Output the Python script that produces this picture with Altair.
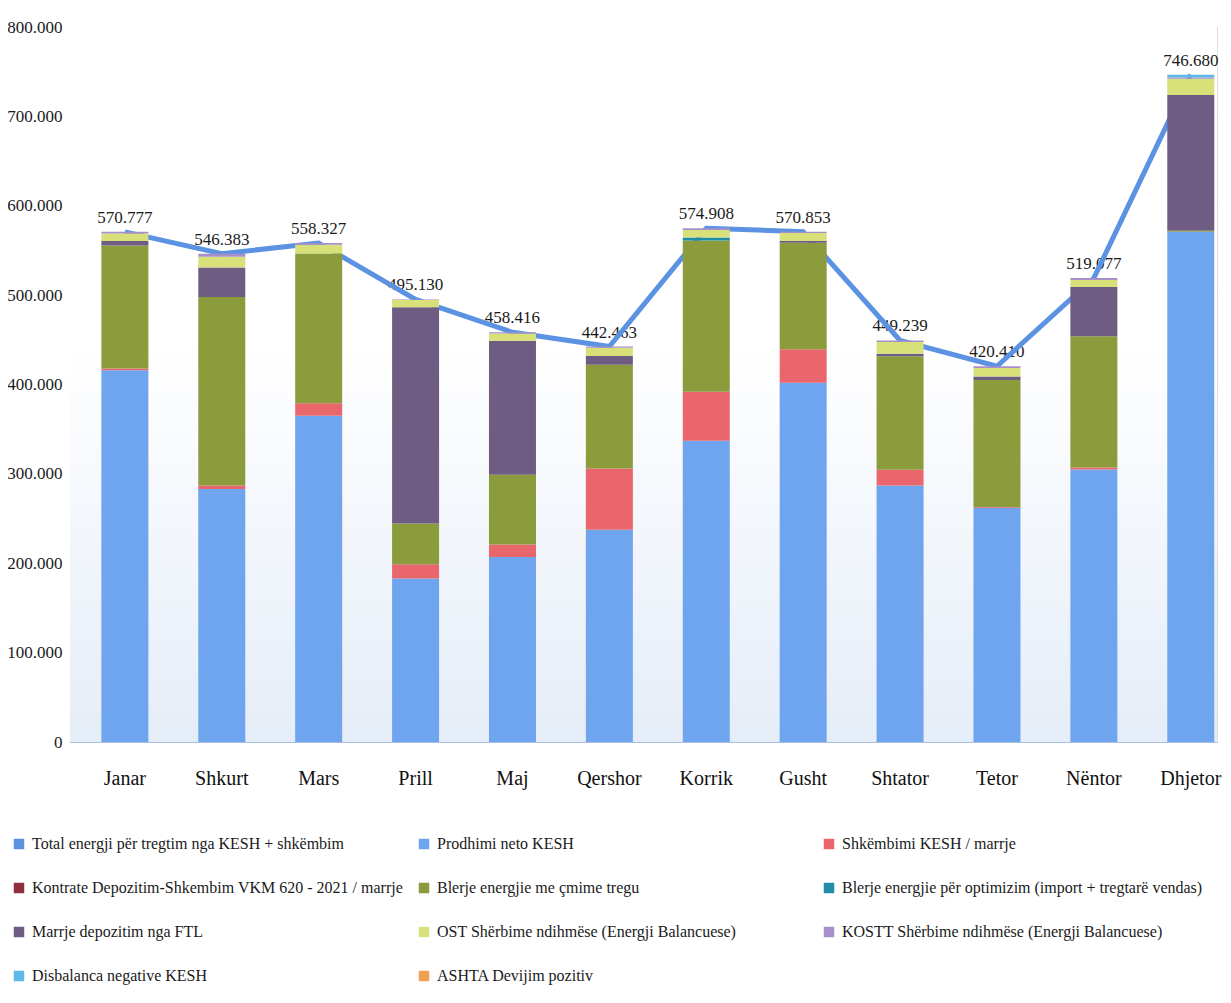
import altair as alt
import pandas as pd

months = ["Janar", "Shkurt", "Mars", "Prill", "Maj", "Qershor",
          "Korrik", "Gusht", "Shtator", "Tetor", "Nëntor", "Dhjetor"]

total_name = "Total energji për tregtim nga KESH + shkëmbim"
series_names = [
    "Prodhimi neto KESH",
    "Shkëmbimi KESH / marrje",
    "Kontrate Depozitim-Shkembim VKM 620 - 2021 / marrje",
    "Blerje energjie me çmime tregu",
    "Blerje energjie për optimizim (import + tregtarë vendas)",
    "Marrje depozitim nga FTL",
    "OST Shërbime ndihmëse (Energji Balancuese)",
    "KOSTT Shërbime ndihmëse (Energji Balancuese)",
    "Disbalanca negative KESH",
    "ASHTA  Devijim pozitiv",
]
series_colors = ["#6FA5EE", "#E8666C", "#8E2F3E", "#8C9B3C", "#1F8DA6",
                 "#6F5C82", "#D8E07A", "#A98FC9", "#5FB8E6", "#F0A050"]
total_color = "#5B93E2"

# values in MWh
prodhimi = [416000, 283000, 365000, 183000, 207000, 237500, 337000, 402000, 287000, 262000, 305000, 571000]
shkembimi = [2000, 4000, 14000, 16000, 14000, 68500, 55000, 37500, 17500, 1000, 2000, 0]
kontrate = [0, 0, 0, 0, 0, 0, 0, 0, 0, 0, 0, 0]
blerje_tregu = [137500, 211000, 167500, 45500, 78000, 116000, 169000, 119000, 127000, 142000, 147000, 1000]
blerje_optimizim = [0, 0, 0, 0, 0, 0, 3500, 0, 0, 0, 0, 0]
ftl = [5000, 33000, 0, 242000, 150000, 10000, 0, 2000, 3000, 4000, 55000, 152000]
ost = [8500, 12000, 10000, 8000, 8000, 9000, 8500, 9000, 13000, 9500, 8000, 18000]
kostt = [1777, 3383, 1827, 630, 1416, 1463, 1908, 1353, 1739, 1910, 2077, 1500]
disbalanca = [0, 0, 0, 0, 0, 0, 0, 0, 0, 0, 0, 3180]
ashta = [0, 0, 0, 0, 0, 0, 0, 0, 0, 0, 0, 0]
totals = [570777, 546383, 558327, 495130, 458416, 442463, 574908, 570853, 449239, 420410, 519077, 746680]

series_values = [prodhimi, shkembimi, kontrate, blerje_tregu, blerje_optimizim,
                 ftl, ost, kostt, disbalanca, ashta]

rows = []
for si, (name, vals) in enumerate(zip(series_names, series_values)):
    for m, v in zip(months, vals):
        rows.append({"month": m, "series": name, "idx": si, "value": v})
bars_df = pd.DataFrame(rows)

tot_df = pd.DataFrame({
    "month": months,
    "total": totals,
    "label": [f"{t:,}".replace(",", ".") for t in totals],
})

W, H = 1147, 715
FONT = "Liberation Serif"

xscale = alt.Scale(domain=months, paddingInner=0.515, paddingOuter=0.176, align=0.92)
yscale = alt.Scale(domain=[0, 800000], nice=False)

x_enc = alt.X("month:N", sort=months, scale=xscale, title=None,
              axis=alt.Axis(labelAngle=0, labelAlign="center", labelBaseline="top",
                            labelFont=FONT, labelFontSize=20,
                            labelColor="#111111", labelPadding=26, ticks=False,
                            domain=True, domainColor="#A9BEDC", domainWidth=1,
                            grid=False))

bg = alt.Chart(pd.DataFrame({"a": [0]})).mark_rect(
    fill=alt.Gradient(
        gradient="linear",
        stops=[alt.GradientStop(color="#FFFFFF", offset=0),
               alt.GradientStop(color="#FFFFFF", offset=0.45),
               alt.GradientStop(color="#E5EDF8", offset=1)],
        x1=0, x2=0, y1=0, y2=1),
).encode(x=alt.value(0), x2=alt.value(W), y=alt.value(0), y2=alt.value(H))

labels = alt.Chart(tot_df).mark_text(
    font=FONT, fontSize=17, color="#1a1a1a", baseline="bottom", dy=-5
).encode(
    x=alt.X("month:N", sort=months, scale=xscale),
    y=alt.Y("total:Q", scale=yscale),
    text="label:N",
)

line = alt.Chart(tot_df).mark_line(color=total_color, strokeWidth=5).encode(
    x=alt.X("month:N", sort=months, scale=xscale),
    y=alt.Y("total:Q", scale=yscale),
)

bars = alt.Chart(bars_df).mark_bar(strokeWidth=0).encode(
    x=x_enc,
    y=alt.Y("value:Q", stack="zero", scale=yscale, title=None,
            axis=alt.Axis(values=list(range(0, 800001, 100000)),
                          labelExpr="replace(format(datum.value, ','), ',', '.')",
                          labelFont=FONT, labelFontSize=17, labelColor="#1a1a1a",
                          labelPadding=8, ticks=False, domain=False,
                          grid=True, gridColor="#CFCFCF", gridDash=[5, 3],
                          gridWidth=1)),
    color=alt.Color("series:N",
                    scale=alt.Scale(domain=[total_name] + series_names,
                                    range=[total_color] + series_colors),
                    legend=alt.Legend(
                        title=None, orient="none", legendX=-59, legendY=809,
                        direction="horizontal",
                        columns=3, gridAlign="all", columnPadding=12,
                        rowPadding=28, symbolType="square", symbolSize=110,
                        symbolStrokeWidth=0, labelFont=FONT, labelFontSize=16,
                        labelColor="#1a1a1a", labelLimit=600, labelOffset=5)),
    order=alt.Order("idx:Q", sort="ascending"),
)

chart = alt.layer(bg, labels, line, bars).properties(
    width=W, height=H,
    autosize=alt.AutoSizeParams(type="none"),
    padding={"left": 62, "top": 19, "right": 5, "bottom": 246},
).configure_view(stroke=None).configure(background="white")

chart.save("out.html", embed_options={"renderer": "svg", "actions": False})
